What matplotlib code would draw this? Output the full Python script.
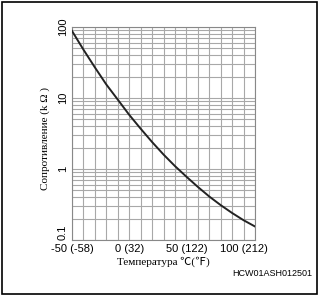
import matplotlib
matplotlib.use("Agg")
import matplotlib.pyplot as plt
from matplotlib.patches import Rectangle
import numpy as np

temps_c = [-50, -40, -30, -20, -10, 0, 10, 20, 30, 40, 50, 60, 70, 80, 90, 100, 110]
resist_kohm = [88, 48, 27, 15.5, 9.5, 5.8, 3.7, 2.4, 1.6, 1.1, 0.78, 0.56, 0.41, 0.31, 0.24, 0.19, 0.155]
x_ticks = [-50, 0, 50, 100]
x_ticklabels = ["-50 (-58)", "0 (32)", "50 (122)", "100 (212)"]
y_ticks = [0.1, 1, 10, 100]
y_ticklabels = ["0.1", "1", "10", "100"]
ylabel = "Сопротивление (k Ω )"
xlabel = "Температура ℃(℉)"
code = "HCW01ASH012501"

W, H = 319, 296
fig = plt.figure(figsize=(W/100, H/100), dpi=100)
ax = fig.add_axes([72/W, 1-240/H, (255-72)/W, (240-27)/H])
ax.set_yscale("log")
ax.set_xlim(-50, 110)
ax.set_ylim(0.1, 100)

gc = "#a8a8a8"
for t in range(-50, 111, 10):
    ax.axvline(t, color=gc, lw=0.8, zorder=1)
for d in [0.1, 1, 10]:
    for m in range(1, 10):
        ax.axhline(d*m, color=gc, lw=0.8, zorder=1)
ax.axhline(100, color=gc, lw=0.8, zorder=1)

ax.plot(temps_c, resist_kohm, color="#222222", lw=1.4, zorder=3)

for s in ax.spines.values():
    s.set_color("#888888")
    s.set_linewidth(0.8)

ax.set_xticks(x_ticks)
ax.set_xticklabels(x_ticklabels, fontsize=8, family="Liberation Sans")
ax.set_yticks(y_ticks)
ax.set_yticklabels(y_ticklabels, fontsize=8, family="Liberation Sans", rotation=90, va="center")
ax.get_yticklabels()[0].set_va("bottom")
ax.yaxis.set_minor_locator(matplotlib.ticker.NullLocator())
ax.tick_params(length=0, pad=3)

fig.text(45/W, 1-138/H, ylabel, rotation=90, ha="center", va="center",
         fontsize=8, family=["Liberation Serif", "DejaVu Sans"])
fig.text(163/W, 1-262/H, xlabel, ha="center", va="center",
         fontsize=8, family=["Liberation Serif", "Noto Sans CJK SC", "DejaVu Sans"])
fig.text(312/W, 1-274/H, code, ha="right", va="center",
         fontsize=6.5, family="Liberation Sans")

fig.patches.append(Rectangle((2/W, 2/H), 315/W, 292/H, transform=fig.transFigure,
                             fill=False, edgecolor="black", lw=1.2))

fig.savefig("out.png", dpi=100)
